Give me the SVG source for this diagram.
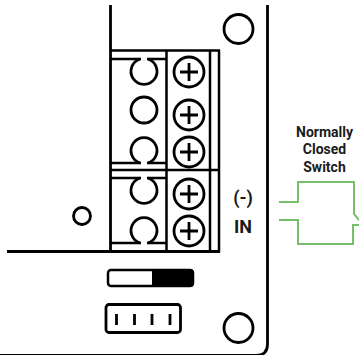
<svg xmlns="http://www.w3.org/2000/svg" width="359" height="355" viewBox="0 0 359 355">
<style>
.k{fill:none;stroke:#000;stroke-width:2.500}
.b{fill:none;stroke:#000;stroke-width:2.800}
.g{fill:none;stroke:#76c06a;stroke-width:2}
.t{font-family:Roboto,"Liberation Sans",sans-serif;font-weight:700;fill:#1a1a1a;text-anchor:middle}
</style>
<rect width="359" height="355" fill="#fff"/>
<g id="board">
<path class="b" d="M267.500 5V344Q267.500 355.500 256 355.500H0"/>
<path class="b" d="M7 251.500H220"/>
<path class="b" d="M110.500 5V251"/>
<circle class="b" cx="238.500" cy="29" r="14.500"/>
<circle class="b" cx="238.500" cy="328" r="14.500"/>
<circle class="b" cx="82" cy="216" r="8.500"/>
</g>
<g id="terminal-block">
<path class="k" d="M110 50.500H220M219 50V252M110 170H220M166.500 50V251M210 50V251"/>
<path class="k" d="M110 59H141M147 59H166M110 163H141M147 163H166M110 178H141M147 178H166M110 243H141M147 243H166"/>
<path class="b" d="M140 59A13 13 0 1 0 148 59"/>
<circle class="b" cx="144" cy="110" r="13"/>
<path class="b" d="M140 163A13 13 0 1 1 148 163"/>
<path class="b" d="M140 178A13 13 0 1 0 148 178"/>
<path class="b" d="M140 243A13 13 0 1 1 148 243"/>
</g>
<g id="screw-1"><circle class="b" cx="189" cy="72" r="15"/><path class="b" d="M180 72H198M189 63V81"/></g>
<g id="screw-2"><circle class="b" cx="189" cy="115" r="15"/><path class="b" d="M180 115H198M189 106V124"/></g>
<g id="screw-3"><circle class="b" cx="189" cy="152" r="15"/><path class="b" d="M180 152H198M189 143V161"/></g>
<g id="screw-4"><circle class="b" cx="189" cy="194" r="15"/><path class="b" d="M180 194H198M189 185V203"/></g>
<g id="screw-5"><circle class="b" cx="189" cy="231" r="15"/><path class="b" d="M180 231H198M189 222V240"/></g>
<g id="slide-switch">
<path d="M152 269H190Q194 269 194 273V283Q194 287 190 287H152Z" fill="#000"/>
<rect class="k" x="108" y="270" width="85" height="16" rx="3"/>
</g>
<g id="dip-switch">
<rect class="b" x="106" y="304.500" width="74.500" height="28" rx="3"/>
<path class="b" d="M116.500 314V325M134.500 314V325M152 314V325M170 314V325"/>
</g>
<g id="connectors">
<path class="g" d="M279 202H298V182H354V214L359 220"/>
<path class="g" d="M279 220H298V244H353V225H359"/>
</g>
<g id="labels">
<text class="t" x="324.500" y="137" font-size="14">Normally</text>
<text class="t" x="324.500" y="154" font-size="14">Closed</text>
<text class="t" x="324.500" y="172" font-size="14">Switch</text>
<text class="t" x="243" y="204" font-size="18">(-)</text>
<text class="t" x="243" y="233" font-size="18">IN</text>
</g>
</svg>
